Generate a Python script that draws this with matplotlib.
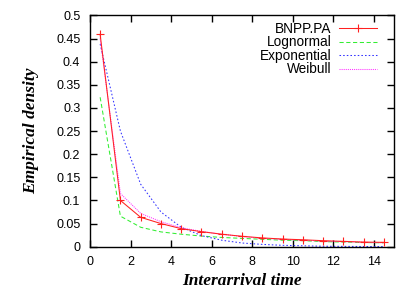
import matplotlib
matplotlib.use("Agg")
import matplotlib.pyplot as plt

x = [0.5, 1.5, 2.5, 3.5, 4.5, 5.5, 6.5, 7.5, 8.5, 9.5, 10.5, 11.5, 12.5, 13.5, 14.5]
bnpp = [0.459, 0.100, 0.0635, 0.050, 0.039, 0.0325, 0.027, 0.0225, 0.019, 0.0166, 0.015, 0.013, 0.0115, 0.010, 0.0094]
lognormal = [0.323, 0.066, 0.042, 0.032, 0.027, 0.023, 0.020, 0.018, 0.016, 0.014, 0.013, 0.011, 0.010, 0.009, 0.0085]
exponential = [0.438, 0.250, 0.135, 0.075, 0.042, 0.024, 0.014, 0.008, 0.005, 0.003, 0.002, 0.001, 0.0007, 0.0004, 0.0002]
weibull = [0.450, 0.115, 0.072, 0.054, 0.041, 0.033, 0.027, 0.022, 0.018, 0.016, 0.014, 0.012, 0.011, 0.0095, 0.0085]

xticks = [0, 2, 4, 6, 8, 10, 12, 14]
yticks = [0, 0.05, 0.1, 0.15, 0.2, 0.25, 0.3, 0.35, 0.4, 0.45, 0.5]
ytick_labels = ["0", "0.05", "0.1", "0.15", "0.2", "0.25", "0.3", "0.35", "0.4", "0.45", "0.5"]

fig = plt.figure(figsize=(4.15, 2.9), dpi=100)
ax = fig.add_axes([0.2169, 0.1493, 0.7325, 0.7977])

ax.plot(x, lognormal, color="#33ee33", lw=0.75, linestyle=(0, (4, 2.5)), label="Lognormal", zorder=2)
ax.plot(x, exponential, color="#3333ff", lw=0.75, linestyle=(0, (1.5, 2)), label="Exponential", zorder=2)
ax.plot(x, weibull, color="#ff33ff", lw=0.75, linestyle=(0, (1, 1)), label="Weibull", zorder=2)
ax.plot(x, bnpp, color="#ff2020", lw=0.75, marker="+", markersize=5.5, markeredgewidth=0.8,
        label="BNPP.PA", zorder=3)

ax.set_xlim(0, 15)
ax.set_ylim(0, 0.5)
ax.set_xticks(xticks)
ax.set_yticks(yticks)
ax.set_yticklabels(ytick_labels)
ax.tick_params(direction="in", length=5, width=1, top=True, right=True,
               labelsize=9, pad=7)
for lab in ax.get_xticklabels() + ax.get_yticklabels():
    lab.set_fontfamily("Liberation Sans")
for s in ax.spines.values():
    s.set_linewidth(1)

ax.set_xlabel("Interarrival time", fontfamily="Liberation Serif", fontweight="bold",
              fontstyle="italic", fontsize=12.5, labelpad=3)
ax.set_ylabel("Empirical density", fontfamily="Liberation Serif", fontweight="bold",
              fontstyle="italic", fontsize=12.5, labelpad=12)

handles, labels = ax.get_legend_handles_labels()
order = [3, 0, 1, 2]
leg = ax.legend([handles[i] for i in order], [labels[i] for i in order],
                loc="upper right", frameon=False, markerfirst=False,
                prop={"family": "Liberation Sans", "size": 9.8},
                handlelength=2.8, labelspacing=-0.04, borderaxespad=0.0,
                handletextpad=0.55, bbox_to_anchor=(0.962, 0.995))

fig.savefig("out.png", dpi=100)
